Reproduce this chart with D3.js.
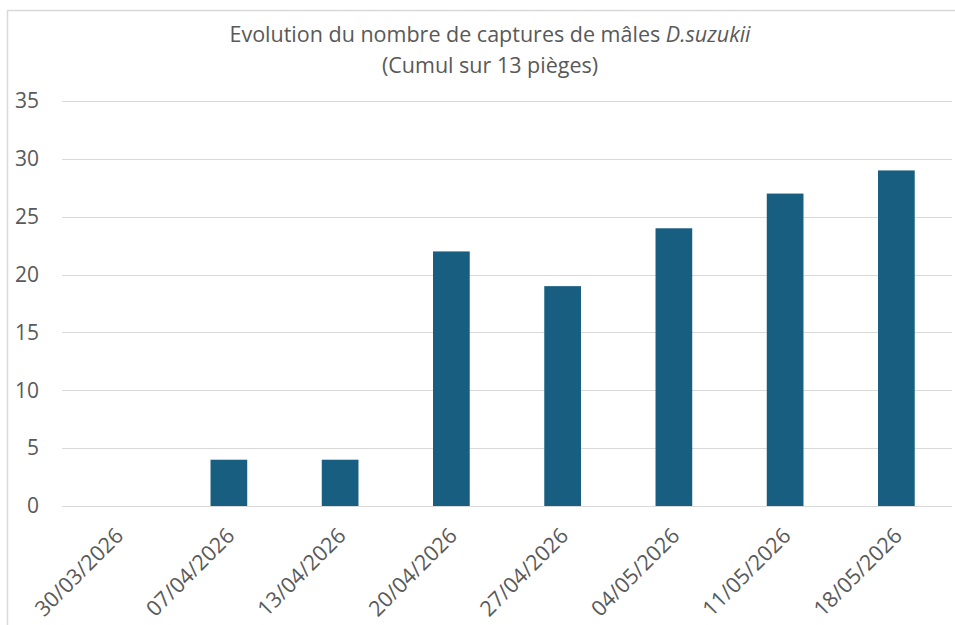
<!DOCTYPE html>
<html>
<head>
<meta charset="utf-8">
<script src="https://cdn.jsdelivr.net/npm/d3@7"></script>
<style>
  body { margin: 0; background: #fff; }
  text { font-family: "Open Sans", sans-serif; fill: #595959; }
</style>
</head>
<body>
<div id="chart"></div>
<script>
const dates = ["30/03/2026", "07/04/2026", "13/04/2026", "20/04/2026", "27/04/2026", "04/05/2026", "11/05/2026", "18/05/2026"]
const captures = [0, 4, 4, 22, 19, 24, 27, 29]
const yTicks = [0, 5, 10, 15, 20, 25, 30, 35]

const width = 955
const height = 625
const margin = { top: 101, right: 3, bottom: 119, left: 62 }

let svg = d3.select('#chart')
    .append("svg")
    .attr("width", width)
    .attr("height", height)

// chart frame
svg.append("rect")
    .attr("x", 7.5)
    .attr("y", 10.5)
    .attr("width", 1000)
    .attr("height", 700)
    .style("fill", "none")
    .style("stroke", "#d9d9d9")
    .style("stroke-width", 1.5)

const x = d3.scaleBand()
    .domain(dates)
    .range([margin.left, width - margin.right])
    .paddingInner(0.67)
    .paddingOuter(0.335)

const y = d3.scaleLinear()
    .domain([0, 35])
    .range([height - margin.bottom, margin.top])

// gridlines
svg.append("g")
    .selectAll("line")
    .data(yTicks)
    .join("line")
    .attr("x1", margin.left)
    .attr("x2", width - margin.right)
    .attr("y1", d => Math.round(y(d)) + 0.5)
    .attr("y2", d => Math.round(y(d)) + 0.5)
    .style("stroke", "#d9d9d9")
    .style("stroke-width", 1.2)

// y labels
const yAxis = svg.append("g")
    .attr("transform", "translate(" + margin.left + ",0)")
    .call(d3.axisLeft(y).tickValues(yTicks).tickSize(0).tickPadding(23))
yAxis.select(".domain").remove()
yAxis.selectAll("text")
    .style("font-size", "21px")
    .style("fill", "#595959")

// bars
svg.append("g")
    .selectAll("rect")
    .data(captures)
    .join("rect")
    .attr("x", (d, i) => x(dates[i]))
    .attr("y", d => y(d))
    .attr("width", x.bandwidth())
    .attr("height", d => y(0) - y(d))
    .style("fill", "#175e80")

// x labels
const xAxis = svg.append("g")
    .attr("transform", "translate(0," + y(0) + ")")
    .call(d3.axisBottom(x).tickSize(0))
xAxis.select(".domain").remove()
xAxis.selectAll("text")
    .attr("text-anchor", "end")
    .attr("dy", null)
    .attr("y", 0)
    .attr("transform", "translate(7,31) rotate(-45)")
    .style("font-size", "21.5px")
    .style("fill", "#595959")

// title
const title = svg.append("text")
    .attr("x", 490)
    .attr("y", 42)
    .attr("text-anchor", "middle")
    .style("font-size", "21.5px")
title.append("tspan").text("Evolution du nombre de captures de mâles ")
title.append("tspan").style("font-style", "italic").text("D.suzukii")

svg.append("text")
    .attr("x", 490)
    .attr("y", 73)
    .attr("text-anchor", "middle")
    .style("font-size", "21.5px")
    .text("(Cumul sur 13 pièges)")
</script>
</body>
</html>
